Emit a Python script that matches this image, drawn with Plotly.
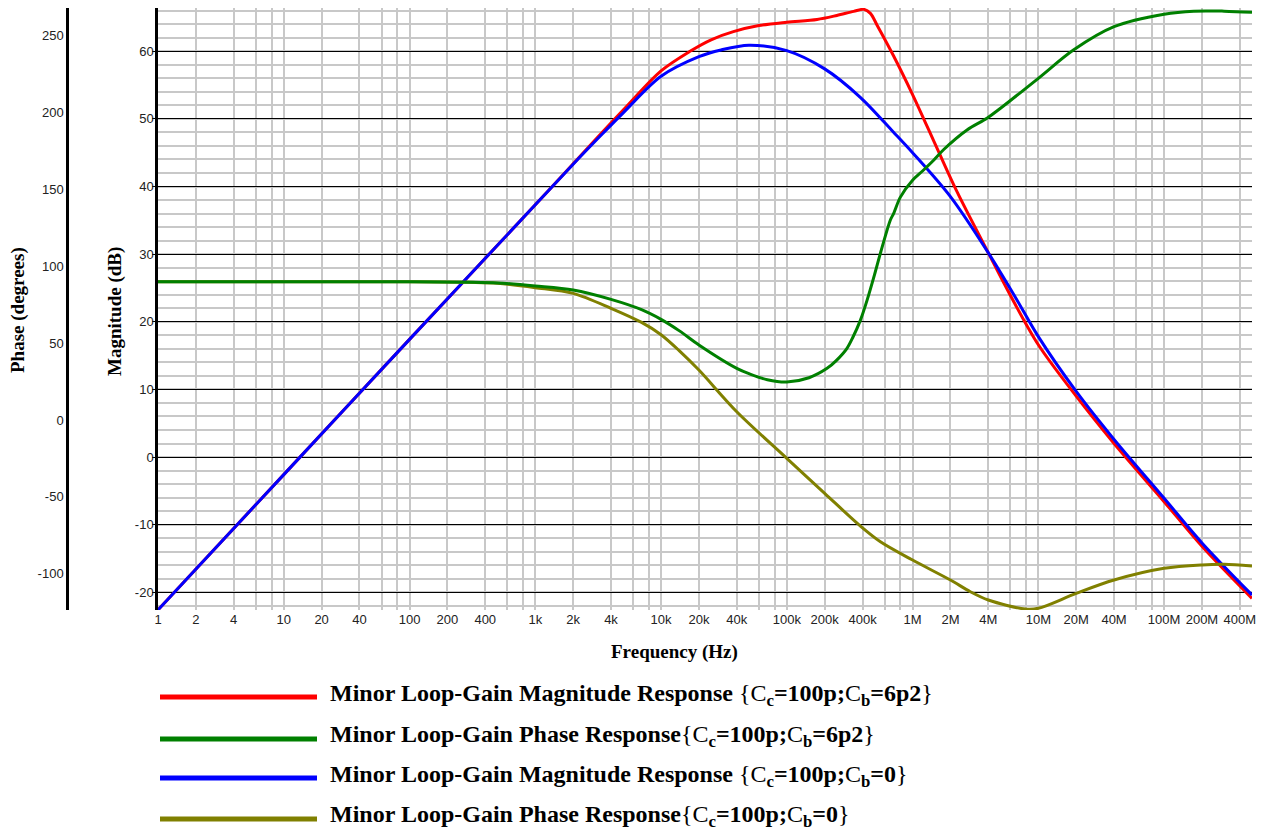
import plotly.graph_objects as go

# ---- Minor loop-gain magnitude, Cc=100p, Cb=6p2 (dB) ----
freq_mag_cb62 = [1, 10, 100, 1e3, 3e3, 5e3, 1e4, 1.7e4, 2.5e4, 3.76e4, 6e4, 1e5, 1.74e5,
                 2.5e5, 3.4e5, 4.1e5, 4.62e5, 5.21e5, 7.07e5, 1e6, 1.57e6, 2.26e6, 4e6,
                 5.8e6, 1e7, 2e7, 4e7, 1e8, 2e8, 5e8]
mag_cb62 = [-22.6, -2.6, 17.4, 37.3, 46.9, 51.3, 57.1, 60.0, 61.7, 62.9, 63.8, 64.3, 64.7,
            65.3, 65.9, 66.2, 65.6, 63.9, 59.3, 53.6, 45.6, 39.2, 30.2,
            24.4, 16.6, 9.0, 2.0, -6.6, -13.2, -20.9]

# ---- Minor loop-gain phase, Cc=100p, Cb=6p2 (degrees) ----
freq_ph_cb62 = [1, 100, 300, 500, 1e3, 2e3, 4e3, 7e3, 1e4, 1.4e4, 2e4, 4e4, 5.1e4, 7e4, 1e5,
                1.5e5, 2.09e5, 2.46e5, 3e5, 3.36e5, 3.85e5, 4.35e5, 5e5, 5.55e5, 6.65e5,
                7.08e5, 8e5, 1e6, 1.2e6, 1.47e6, 1.77e6, 2.71e6, 3.9e6, 5e6, 1e7, 1.9e7,
                4e7, 1e8, 1.72e8, 3e8, 5e8]
ph_cb62 = [90, 90, 89.7, 89.2, 87.2, 84.6, 78.5, 71.8, 65.5, 58.0, 48.8, 33.6, 29.9, 26.2, 24.7,
           27.5, 33.6, 38.5, 46.5, 54.0, 65.0, 78.0, 95.0, 108.5, 130.0,
           134.5, 145.0, 156.0, 162.0, 169.0, 176.0, 188.7, 196.3, 202.8, 222.3, 240.7,
           255.9, 264.0, 266.0, 266.0, 265.3]

# ---- Minor loop-gain magnitude, Cc=100p, Cb=0 (dB) ----
freq_mag_cb0 = [1, 10, 100, 1e3, 2e3, 3.3e3, 5e3, 1e4, 2e4, 3e4, 5e4, 1e5, 2e5, 3.84e5,
                7e5, 1e6, 2e6, 4e6, 6.58e6, 1e7, 2e7, 4e7, 1e8, 2e8, 5e8]
mag_cb0 = [-22.6, -2.6, 17.4, 37.3, 43.3, 47.5, 50.9, 56.3, 59.2, 60.2, 60.9, 60.1, 57.4, 53.2,
           48.1, 45.0, 38.5, 30.2, 23.6, 17.8, 9.7, 2.6, -6.1, -12.7, -20.4]

# ---- Minor loop-gain phase, Cc=100p, Cb=0 (degrees) ----
freq_ph_cb0 = [1, 100, 300, 500, 1e3, 2e3, 4e3, 7e3, 1e4, 1.4e4, 2e4, 4e4, 1e5, 2e5, 3.85e5,
               5.55e5, 1e6, 2e6, 2.88e6, 4e6, 7.9e6, 1e7, 2e7, 4e7, 1e8, 2e8, 3e8, 5e8]
ph_cb0 = [90, 90, 89.6, 89.0, 86.1, 82.4, 72.7, 63.5, 55.5, 45.0, 32.5, 5.4, -24.9, -47.7, -69.0,
          -79.2, -91.1, -104.1, -111.7, -117.1, -123.0, -122.5, -112.8, -104.1, -96.5, -94.3,
          -93.9, -95.0]

# ---- Axis ticks ----
freq_tick_vals = [m * 10 ** d for d in range(9) for m in (1, 2, 4)]
freq_tick_text = ["1", "2", "4", "10", "20", "40", "100", "200", "400",
                  "1k", "2k", "4k", "10k", "20k", "40k", "100k", "200k", "400k",
                  "1M", "2M", "4M", "10M", "20M", "40M", "100M", "200M", "400M"]
freq_minor_vals = [m * 10 ** d for d in range(9) for m in (6, 8)]
freq_decades = [10 ** d for d in range(9)]
mag_tick_vals = [-20, -10, 0, 10, 20, 30, 40, 50, 60]
phase_tick_vals = [-100, -50, 0, 50, 100, 150, 200, 250]

series_names = [
    "Minor Loop-Gain Magnitude Response{Cc=100p;Cb=6p2}",
    "Minor Loop-Gain Phase Response{Cc=100p;Cb=6p2}",
    "Minor Loop-Gain Magnitude Response{Cc=100p;Cb=0}",
    "Minor Loop-Gain Phase Response{Cc=100p;Cb=0}",
]
legend_labels = [
    "<b>Minor Loop-Gain Magnitude Response</b> {C<sub><b>c</b></sub><b>=100p;</b>C<sub><b>b</b></sub><b>=6p2</b>}",
    "<b>Minor Loop-Gain Phase Response</b>{C<sub><b>c</b></sub><b>=100p;</b>C<sub><b>b</b></sub><b>=6p2</b>}",
    "<b>Minor Loop-Gain Magnitude Response</b> {C<sub><b>c</b></sub><b>=100p;</b>C<sub><b>b</b></sub><b>=0</b>}",
    "<b>Minor Loop-Gain Phase Response</b>{C<sub><b>c</b></sub><b>=100p;</b>C<sub><b>b</b></sub><b>=0</b>}",
]
colors = ["#ff0000", "#008000", "#0000ff", "#808000"]

# ---- Page geometry ----
W, H = 1263, 832
ML, MR, MT, MB = 60, 11, 8, 222
PW = W - ML - MR
PH = H - MT - MB


def px_x(px):
    return (px - ML) / PW


def px_y(py):
    return (H - MB - py) / PH


X_RANGE = [0, 8.69897]
TICK_FONT = dict(family="Liberation Sans, Arial", size=13, color="#222")
TITLE_FONT = dict(family="Liberation Serif, Times New Roman", size=19, color="black")
GRID_GREY = "#c8c8c8"

fig = go.Figure()

traces = [
    (freq_mag_cb62, mag_cb62, "y"),
    (freq_ph_cb62, ph_cb62, "y2"),
    (freq_mag_cb0, mag_cb0, "y"),
    (freq_ph_cb0, ph_cb0, "y2"),
]
# phase curves first so magnitude curves sit on top
for idx in (3, 1, 0, 2):
    fx, fy, ax = traces[idx]
    fig.add_trace(go.Scatter(
        x=fx, y=fy, yaxis=ax, mode="lines", name=series_names[idx],
        line=dict(color=colors[idx], width=3, shape="spline", smoothing=0.9),
        showlegend=False, hoverinfo="x+y+name",
    ))

x_domain = [px_x(158), 1]

fig.update_layout(
    width=W, height=H,
    margin=dict(l=ML, r=MR, t=MT, b=MB),
    paper_bgcolor="white", plot_bgcolor="white",
    showlegend=False,
    xaxis=dict(
        type="log", range=X_RANGE, domain=x_domain,
        tickmode="array", tickvals=freq_tick_vals, ticktext=freq_tick_text,
        tickfont=TICK_FONT, ticks="", showline=False, zeroline=False,
        showgrid=True, gridcolor=GRID_GREY, gridwidth=1.5,
        minor=dict(tickmode="array", tickvals=freq_minor_vals, showgrid=True,
                   gridcolor=GRID_GREY, gridwidth=1.5, ticks=""),
    ),
    xaxis2=dict(
        type="log", range=X_RANGE, domain=x_domain, overlaying="x", anchor="y",
        tickmode="array", tickvals=freq_decades, showticklabels=False, ticks="",
        showgrid=True, gridcolor="#3a3a3a", gridwidth=1.8, showline=False, zeroline=False,
    ),
    yaxis=dict(
        range=[-22.62, 66.40], tickmode="array", tickvals=mag_tick_vals,
        ticktext=[str(v) for v in mag_tick_vals], tickfont=TICK_FONT,
        ticks="outside", ticklen=3, tickcolor="black", ticklabelstandoff=-4,
        showline=True, linecolor="black", linewidth=2.5, zeroline=False,
        showgrid=True, gridcolor="black", gridwidth=1.3,
        minor=dict(tick0=0, dtick=2, showgrid=True, gridcolor=GRID_GREY, gridwidth=1.5, ticks=""),
    ),
    yaxis2=dict(
        range=[-123.6, 268.05], overlaying="y", anchor="free", position=px_x(67), side="left",
        tickmode="array", tickvals=phase_tick_vals, ticktext=[str(v) for v in phase_tick_vals],
        tickfont=TICK_FONT, ticks="",
        showline=True, linecolor="black", linewidth=2.5, showgrid=False, zeroline=False,
    ),
)

annotations = [
    dict(text="<b>Magnitude (dB)</b>", x=px_x(115), y=px_y(312), textangle=-90),
    dict(text="<b>Phase (degrees)</b>", x=px_x(18), y=px_y(310), textangle=-90),
    dict(text="<b>Frequency (Hz)</b>", x=px_x(674), y=px_y(652), textangle=0),
]
for a in annotations:
    fig.add_annotation(xref="paper", yref="paper", showarrow=False,
                       xanchor="center", yanchor="middle", font=TITLE_FONT, **a)

# legend keys drawn below the plot
legend_line_y = [697, 739, 778, 819]
legend_text_y = [695, 736, 776, 816]
for i in range(4):
    fig.add_shape(type="line", xref="paper", yref="paper",
                  x0=px_x(160), x1=px_x(317), y0=px_y(legend_line_y[i]), y1=px_y(legend_line_y[i]),
                  line=dict(color=colors[i], width=5))
    fig.add_annotation(xref="paper", yref="paper", showarrow=False,
                       x=px_x(328), y=px_y(legend_text_y[i]), xanchor="left", yanchor="middle",
                       text=legend_labels[i],
                       font=dict(family="Liberation Serif, Times New Roman", size=24, color="black"))

fig.write_html("out.html")
